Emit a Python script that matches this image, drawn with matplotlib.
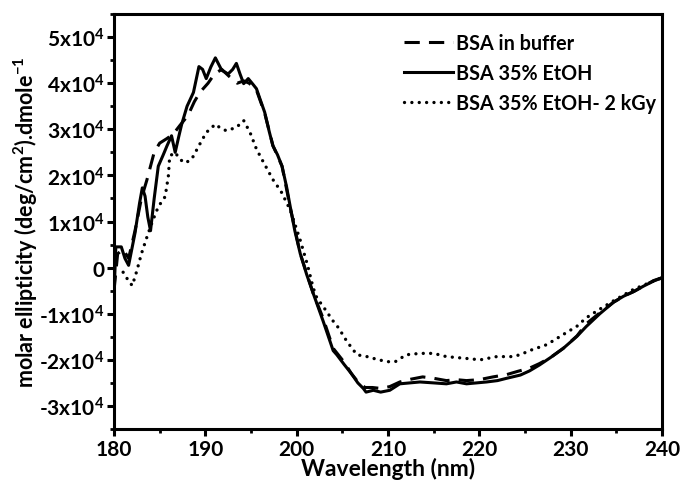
import matplotlib
matplotlib.use("Agg")
import matplotlib.pyplot as plt
from matplotlib.ticker import FixedLocator, MultipleLocator

plt.rcParams["font.family"] = ["Lato", "DejaVu Sans"]
plt.rcParams["font.weight"] = "bold"
plt.rcParams["mathtext.fontset"] = "custom"
plt.rcParams["mathtext.rm"] = "Lato:bold"
plt.rcParams["mathtext.bf"] = "Lato:bold"
plt.rcParams["mathtext.default"] = "bf"

# ellipticity values in units of 1e4 deg cm2 dmol-1
wl_buffer = [180.0, 180.4, 181.0, 181.6, 182.3, 183.0, 183.6, 184.4, 185.0, 185.8,
             186.5, 187.2, 188.1, 188.8, 189.4, 190.3, 191.0, 191.8, 192.6, 193.5,
             194.2, 194.8, 195.6, 196.5, 197.4, 198.4, 199.3, 200.4, 201.8, 202.9,
             204.0, 205.2, 206.0, 206.8, 207.5, 208.3, 209.2, 210.2, 211.3, 212.5,
             213.8, 215.0, 216.4, 217.5, 218.6, 220.0, 221.5, 223.0, 224.2, 225.5,
             226.6, 227.8, 229.2, 230.7, 231.7, 233.2, 234.7, 236.0, 236.9, 238.0,
             239.1, 240.0]
cd_buffer = [-0.5, 0.3, 0.4, 0.2, 0.8, 1.5, 1.9, 2.5, 2.7, 2.8,
             2.9, 3.08, 3.3, 3.6, 3.8, 4.0, 4.2, 4.3, 4.15, 4.0,
             4.05, 4.0, 3.85, 3.35, 2.65, 2.2, 1.3, 0.3, -0.55, -1.1,
             -1.75, -2.05, -2.3, -2.5, -2.6, -2.6, -2.62, -2.58, -2.48, -2.42,
             -2.37, -2.4, -2.45, -2.43, -2.45, -2.43, -2.37, -2.32, -2.25, -2.18,
             -2.08, -1.95, -1.75, -1.48, -1.22, -0.98, -0.75, -0.6, -0.52, -0.4,
             -0.28, -0.22]

wl_etoh = [180.0, 180.2, 180.8, 181.2, 181.6, 182.3, 182.8, 183.1, 183.4, 183.7,
           184.0, 184.4, 184.85, 185.4, 185.8, 186.3, 186.7, 187.1, 187.4, 188.0,
           188.7, 189.3, 189.7, 190.1, 190.6, 191.1, 191.8, 192.5, 193.0, 193.4,
           193.8, 194.2, 194.7, 195.2, 195.6, 196.0, 196.5, 197.0, 197.4, 197.9,
           198.4, 198.9, 199.3, 199.8, 200.4, 201.1, 201.8, 202.9, 204.0, 204.4,
           205.2, 206.0, 206.7, 207.3, 207.6, 208.4, 209.2, 210.2, 211.3, 212.4,
           213.5, 215.0, 216.4, 217.5, 218.6, 219.7, 220.8, 222.0, 223.0, 224.5,
           225.5, 226.6, 227.8, 229.2, 230.7, 231.7, 233.2, 234.7, 235.8, 236.9,
           238.0, 239.1, 240.0]
cd_etoh = [-0.6, 0.45, 0.45, 0.2, 0.05, 0.75, 1.4, 1.73, 1.55, 1.1,
           0.8, 1.5, 2.2, 2.45, 2.64, 2.86, 2.5, 2.85, 3.1, 3.5,
           3.8, 4.36, 4.3, 4.1, 4.35, 4.55, 4.28, 4.2, 4.3, 4.43,
           4.2, 3.99, 4.1, 3.98, 3.88, 3.65, 3.37, 2.95, 2.64, 2.45,
           2.2, 1.75, 1.32, 0.8, 0.3, -0.15, -0.55, -1.16, -1.8, -1.89,
           -2.1, -2.3, -2.5, -2.62, -2.7, -2.66, -2.7, -2.66, -2.52, -2.5,
           -2.48, -2.5, -2.52, -2.48, -2.52, -2.5, -2.48, -2.45, -2.4, -2.33,
           -2.24, -2.11, -1.95, -1.75, -1.49, -1.28, -1.0, -0.75, -0.62, -0.52,
           -0.4, -0.29, -0.22]

wl_irr = [181.0, 181.6, 182.0, 182.5, 183.0, 183.6, 184.2, 184.85, 185.6, 185.95,
          186.1, 186.7, 187.2, 187.8, 188.5, 189.4, 190.1, 191.1, 191.7, 192.3,
          193.4, 194.2, 194.9, 195.6, 196.3, 197.4, 198.3, 199.3, 200.4, 201.2,
          201.8, 202.2, 203.1, 204.0, 204.6, 205.5, 206.6, 207.7, 208.8, 209.9,
          210.8, 212.0, 213.5, 215.0, 216.4, 218.6, 220.1, 221.9, 223.7, 224.6,
          225.5, 227.4, 229.2, 230.7, 231.7, 233.2, 234.7, 236.9, 238.0, 239.1,
          240.0]
cd_irr = [-0.1, -0.29, -0.39, -0.07, 0.3, 0.66, 1.0, 1.32, 1.54, 1.98,
          2.42, 2.5, 2.35, 2.27, 2.35, 2.68, 2.93, 3.11, 3.02, 2.97,
          3.04, 3.19, 2.93, 2.57, 2.31, 1.91, 1.65, 1.25, 0.59, 0.05,
          -0.43, -0.65, -0.9, -1.16, -1.31, -1.6, -1.89, -1.93, -1.99, -2.04,
          -2.04, -1.89, -1.86, -1.86, -1.93, -1.97, -2.0, -1.93, -1.93, -1.88,
          -1.8, -1.67, -1.45, -1.27, -1.09, -0.9, -0.72, -0.47, -0.38, -0.29,
          -0.22]

labels = ["BSA in buffer", "BSA 35% EtOH", "BSA 35% EtOH- 2 kGy"]
y_ticks = [-3, -2, -1, 0, 1, 2, 3, 4, 5]
y_tick_labels = ["-3x10$^4$", "-2x10$^4$", "-1x10$^4$", "0", "1x10$^4$",
                 "2x10$^4$", "3x10$^4$", "4x10$^4$", "5x10$^4$"]

fig, ax = plt.subplots(figsize=(6.81, 4.85), dpi=100)
fig.subplots_adjust(left=0.1674, right=0.972, top=0.969, bottom=0.1134)

scale = 1e4
ax.plot(wl_buffer, [v * scale for v in cd_buffer], color="black", lw=2.2,
        dashes=(5, 3), label=labels[0])
ax.plot(wl_etoh, [v * scale for v in cd_etoh], color="black", lw=2.2,
        label=labels[1])
ax.plot(wl_irr, [v * scale for v in cd_irr], color="black", lw=2.4,
        dashes=(0.01, 2.2), dash_capstyle="round", label=labels[2])

ax.set_xlim(180, 240)
ax.set_ylim(-3.5e4, 5.5e4)
ax.xaxis.set_major_locator(MultipleLocator(10))
ax.xaxis.set_minor_locator(MultipleLocator(5))
ax.yaxis.set_major_locator(FixedLocator([v * scale for v in y_ticks]))
ax.yaxis.set_minor_locator(MultipleLocator(5e3))
ax.set_yticklabels(y_tick_labels)

for spine in ax.spines.values():
    spine.set_linewidth(2.2)
ax.tick_params(which="major", direction="out", length=5, width=2.2,
               labelsize=15, pad=2)
ax.tick_params(which="minor", direction="out", length=3, width=2)

ax.set_xlabel("Wavelength (nm)", fontsize=16.5, fontweight="bold", labelpad=-1)
ax.set_ylabel("molar ellipticity (deg/cm$^2$).dmole$^{-1}$", fontsize=15.5,
              fontweight="bold")
ax.yaxis.set_label_coords(-0.135, 0.5)

ax.legend(loc="upper right", bbox_to_anchor=(1.022, 0.997), frameon=False,
          fontsize=14.2, handlelength=2.5, handletextpad=0.15, labelspacing=0.5)

fig.savefig("out.png", dpi=100)
